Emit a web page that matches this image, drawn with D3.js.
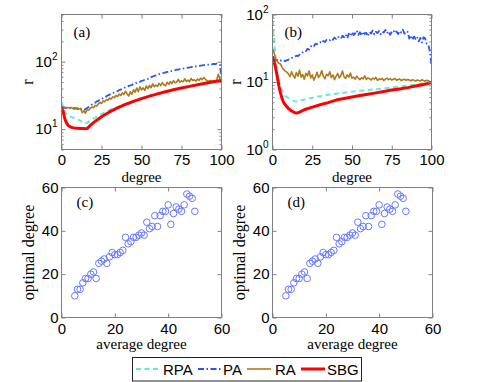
<!DOCTYPE html>
<html><head><meta charset="utf-8">
<script src="https://cdn.jsdelivr.net/npm/d3@7"></script>
<style>
body{margin:0;background:#fff;}
svg{display:block;}
</style></head><body>
<svg id="chart" width="480" height="382"></svg>
<script>
// ---------- data ----------
const degrees = d3.range(0, 101);
const smoothDeg = [0,1,2,3,4,5,6,7,8,10,12,14,15,16,18,20,25,30,35,40,45,50,55,60,65,70,75,80,85,90,95,100];

const aRPA = [25,22,19,17,16,15.5,15.2,14.9,14.6,14.2,13.2,12.5,12.3,12.4,13.4,14.3,16.8,19.2,21.2,23.6,26.1,28.7,31.2,33.7,36.2,38.7,41.1,43.5,46.0,48.4,50.8,53.2];
const aSBG = [21,18.5,14.5,12.5,11.5,11.0,10.7,10.55,10.45,10.35,10.25,10.2,10.15,10.2,11.4,12.5,15.3,18.0,20.7,23.3,25.8,28.4,30.9,33.4,35.9,38.3,40.7,43.1,45.5,47.9,50.3,52.6];
const aPA = [
  21.5,21.0,20.6,20.9,20.4,20.8,20.2,20.6,20.0,20.5,
  19.8,20.2,19.5,19.9,19.3,19.8,20.6,21.3,22.4,23.1,
  24.0,24.6,25.8,26.3,27.5,28.1,29.0,29.8,30.6,31.7,
  32.3,33.5,33.9,35.2,35.8,36.5,37.9,38.4,39.8,40.5,
  41.9,42.3,43.8,44.4,45.1,46.9,47.3,48.6,49.5,50.2,
  52.0,52.6,53.9,54.8,55.5,58.0,59.1,60.2,61.8,62.5,
  64.0,65.2,66.1,67.6,68.2,69.5,70.4,71.0,72.6,73.1,
  74.2,74.8,76.1,76.5,77.6,78.2,79.0,80.1,80.5,81.4,
  82.0,83.1,83.5,84.6,85.0,86.1,86.6,87.7,88.1,89.2,
  89.6,90.8,90.2,92.0,91.4,93.0,92.1,93.5,91.8,90.0,
  58.0];
const aRA = [
  21.0,20.8,21.2,20.6,21.0,20.5,20.9,20.3,20.7,20.2,
  20.6,19.9,20.3,17.5,18.8,17.2,19.5,19.0,20.4,21.3,
  20.8,22.5,22.0,23.6,24.9,24.0,26.2,25.5,27.4,26.8,
  28.9,28.0,30.1,29.2,31.5,30.4,33.0,31.6,34.4,32.8,
  36.5,33.5,31.0,35.8,33.0,38.5,35.2,40.8,36.0,42.5,
  38.2,41.0,37.5,43.6,39.8,44.5,41.2,46.8,42.5,45.0,
  43.1,47.6,44.2,48.8,45.5,43.8,49.5,46.0,50.8,47.2,
  52.4,48.5,50.0,54.6,49.6,52.0,50.4,55.8,51.2,53.4,
  50.6,56.5,52.8,54.0,51.5,55.2,53.0,57.0,54.2,58.5,
  55.0,52.0,51.2,52.5,51.0,52.4,51.8,53.0,65.0,55.0,
  52.0];

const bRPA = [80,40,22,14,10.5,8.6,7.5,6.8,6.3,5.75,5.4,5.2,5.15,5.18,5.35,5.5,5.85,6.15,6.45,6.7,6.95,7.2,7.4,7.6,7.8,8.05,8.3,8.55,8.85,9.2,9.6,10.1];
const bSBG = [24,20,16,12,8.8,6.9,5.7,5.0,4.6,4.05,3.72,3.52,3.46,3.5,3.68,3.88,4.25,4.6,4.95,5.4,5.7,6.0,6.3,6.6,6.9,7.25,7.6,7.9,8.25,8.7,9.2,9.8];
const bPA = [
  22.0,21.4,20.8,21.2,20.5,20.9,20.3,20.8,20.4,21.0,
  21.5,22.0,22.8,23.0,23.8,24.5,24.2,25.5,26.8,27.5,
  29.0,28.6,31.0,30.2,33.5,35.0,33.8,37.0,36.2,38.5,
  39.0,37.5,40.5,39.2,42.0,40.8,41.5,44.0,42.2,45.5,
  43.5,47.0,45.2,44.0,48.5,46.0,50.5,44.5,52.0,48.0,
  55.0,49.5,53.0,57.5,50.0,54.5,48.5,56.0,51.5,53.5,
  47.5,55.0,52.0,58.0,50.5,55.5,53.0,57.0,51.0,56.0,
  54.0,59.0,52.5,56.5,50.0,55.0,58.5,53.0,56.0,51.5,
  57.0,54.0,59.5,52.0,56.5,55.0,44.0,49.0,42.0,47.0,
  43.5,46.5,40.0,45.0,38.5,46.0,44.0,37.0,36.0,28.0,
  18.0];
const bRA = [
  31.0,27.0,22.0,20.0,19.0,18.5,16.5,15.2,14.5,14.0,
  13.2,12.0,14.2,12.5,11.4,13.8,12.2,15.0,11.8,12.9,
  11.0,13.5,12.3,14.6,11.5,12.8,10.6,12.0,13.9,11.7,
  12.6,14.8,12.1,11.2,13.0,12.4,14.2,11.6,12.7,10.8,
  12.2,13.4,11.5,12.5,14.5,12.0,11.3,12.8,11.8,13.6,
  11.4,11.8,11.0,12.2,11.4,10.8,11.6,11.1,12.3,10.9,
  11.5,11.2,10.7,11.4,11.0,11.7,10.6,11.1,10.9,11.3,
  10.5,11.0,11.4,10.8,11.2,10.7,11.0,11.3,10.6,10.9,
  11.1,10.5,10.8,11.0,10.6,10.9,10.7,10.4,10.8,10.6,
  10.3,10.7,10.5,10.4,10.8,10.5,10.3,10.6,10.4,10.2,
  10.1];

const avgDegree = [5,6,7,8,9,10,11,12,13,14,15,16,17,18,19,20,21,22,23,24,25,26,27,28,29,30,31,32,33,34,35,36,37,38,39,40,41,42,43,44,45,46,47,48,49,50];
const optDegree = [10,13,13,16,18,18,20,21,18,25, 26,27,25,28,30,29,29,30,31,37, 34,35,37,37,38,39,38,44,41,42, 47,42,47,49,49,52,43,48,51,50, 49,52,57,56,55,49];

const seriesNames = ["RPA","PA","RA","SBG"];
const degreeTicks = [0,25,50,75,100];
const scatterTicks = [0,20,40,60];
const logMajorA = [10,100];
const logMajorB = [1,10,100];

// ---------- styles ----------
const SANS = '"Liberation Sans", Arial, Helvetica, sans-serif';
const SERIF = '"Liberation Serif", "Times New Roman", Times, serif';
const FRAME = "#808080";
const style = {
  RPA: {color:"#66ecd6", width:2, dash:"5,3.5"},
  PA:  {color:"#2c52ff", width:1.8, dash:"6,2.5,1.5,2.5"},
  RA:  {color:"#b07a1a", width:1.6, dash:null},
  SBG: {color:"#ff0000", width:3, dash:null}
};

const svg = d3.select("#chart");
const defs = svg.append("defs");

function styleAxis(sel){
  sel.select(".domain").remove();
  sel.selectAll(".tick line").attr("stroke", FRAME);
  sel.selectAll(".tick text").attr("fill","#000").style("font-family", SANS).style("font-size","15px");
}

function frame(g, box){
  g.append("rect").attr("x", box.x0).attr("y", box.y0)
    .attr("width", box.x1-box.x0).attr("height", box.y1-box.y0)
    .attr("fill","none").attr("stroke", FRAME).attr("stroke-width",1);
}

function logPanel(id, box, yDomain, majors, data, label){
  const x = d3.scaleLinear().domain([0,100]).range([box.x0, box.x1]);
  const y = d3.scaleLog().domain(yDomain).range([box.y1, box.y0]);
  const g = svg.append("g");
  g.append("rect").attr("x",box.x0).attr("y",box.y0).attr("width",box.x1-box.x0).attr("height",box.y1-box.y0).attr("fill","#fff");
  defs.append("clipPath").attr("id","clip"+id).append("rect")
    .attr("x",box.x0).attr("y",box.y0).attr("width",box.x1-box.x0).attr("height",box.y1-box.y0);
  const lines = g.append("g").attr("clip-path","url(#clip"+id+")");
  seriesNames.forEach(name => {
    const s = data[name];
    const line = d3.line().x((d,i)=>x(s.x[i])).y(d=>y(d));
    const st = style[name];
    lines.append("path").datum(s.v).attr("d", line)
      .attr("fill","none").attr("stroke", st.color).attr("stroke-width", st.width)
      .attr("stroke-dasharray", st.dash).attr("stroke-linejoin","round");
  });
  const minors = y.ticks().filter(t => majors.indexOf(t) < 0);
  g.append("g").attr("transform",`translate(0,${box.y1})`)
    .call(d3.axisBottom(x).tickValues(degreeTicks).tickSizeInner(-4).tickSizeOuter(0).tickPadding(5)).call(styleAxis);
  g.append("g").attr("transform",`translate(0,${box.y0})`)
    .call(d3.axisTop(x).tickValues(degreeTicks).tickSizeInner(-4).tickSizeOuter(0).tickFormat("")).call(styleAxis);
  [[box.x0, d3.axisLeft],[box.x1, d3.axisRight]].forEach(([px, ax])=>{
    g.append("g").attr("transform",`translate(${px},0)`)
      .call(ax(y).tickValues(majors).tickSizeInner(-4).tickSizeOuter(0).tickFormat("")).call(styleAxis);
    g.append("g").attr("transform",`translate(${px},0)`)
      .call(ax(y).tickValues(minors).tickSizeInner(-2).tickSizeOuter(0).tickFormat("")).call(styleAxis);
  });
  majors.forEach(t=>{
    const tx = g.append("text").attr("x", box.x0-4).attr("y", y(t)+5)
      .attr("text-anchor","end").style("font-family",SANS).style("font-size","15px");
    tx.append("tspan").text("10");
    tx.append("tspan").attr("dy",-7).style("font-size","10px").text(String(Math.round(Math.log10(t))));
  });
  frame(g, box);
  g.append("text").attr("x", box.x0+12).attr("y", 37).style("font-family",SERIF).style("font-size","15px").text(label);
  g.append("text").attr("x",(box.x0+box.x1)/2).attr("y",181.5).attr("text-anchor","middle")
    .style("font-family",SERIF).style("font-size","15px").text("degree");
  return g;
}

function scatterPanel(id, box, label, ylabX){
  const x = d3.scaleLinear().domain([0,60]).range([box.x0, box.x1]);
  const y = d3.scaleLinear().domain([0,60]).range([box.y1, box.y0]);
  const g = svg.append("g");
  g.append("rect").attr("x",box.x0).attr("y",box.y0).attr("width",box.x1-box.x0).attr("height",box.y1-box.y0).attr("fill","#fff");
  g.selectAll("circle").data(avgDegree).join("circle")
    .attr("cx",(d)=>x(d)).attr("cy",(d,i)=>y(optDegree[i])).attr("r",3.3)
    .attr("fill","none").attr("stroke","#6878ff").attr("stroke-width",1);
  g.append("g").attr("transform",`translate(0,${box.y1})`)
    .call(d3.axisBottom(x).tickValues(scatterTicks).tickSizeInner(-4).tickSizeOuter(0).tickPadding(5.5)).call(styleAxis);
  g.append("g").attr("transform",`translate(0,${box.y0})`)
    .call(d3.axisTop(x).tickValues(scatterTicks).tickSizeInner(-4).tickSizeOuter(0).tickFormat("")).call(styleAxis);
  g.append("g").attr("transform",`translate(${box.x0},0)`)
    .call(d3.axisLeft(y).tickValues(scatterTicks).tickSizeInner(-4).tickSizeOuter(0).tickPadding(3)).call(styleAxis);
  g.append("g").attr("transform",`translate(${box.x1},0)`)
    .call(d3.axisRight(y).tickValues(scatterTicks).tickSizeInner(-4).tickSizeOuter(0).tickFormat("")).call(styleAxis);
  frame(g, box);
  g.append("text").attr("x", box.x0+15).attr("y", 207).style("font-family",SERIF).style("font-size","15px").text(label);
  g.append("text").attr("x",(box.x0+box.x1)/2).attr("y",349).attr("text-anchor","middle")
    .style("font-family",SERIF).style("font-size","15px").text("average degree");
  g.append("text").attr("transform",`translate(${ylabX},${(box.y0+box.y1)/2}) rotate(-90)`).attr("text-anchor","middle")
    .style("font-family",SERIF).style("font-size","16px").text("optimal degree");
}

const boxA = {x0:61.5, x1:221.5, y0:14.5, y1:149.5};
const boxB = {x0:272.5, x1:431.5, y0:14.5, y1:149.5};
const boxC = {x0:61.5, x1:221.5, y0:187.5, y1:317.5};
const boxD = {x0:272.5, x1:432.5, y0:187.5, y1:317.5};

logPanel("a", boxA, [5,500], logMajorA, {
  RPA:{x:smoothDeg, v:aRPA}, PA:{x:degrees, v:aPA}, RA:{x:degrees, v:aRA}, SBG:{x:smoothDeg, v:aSBG}
}, "(a)");
logPanel("b", boxB, [1,100], logMajorB, {
  RPA:{x:smoothDeg, v:bRPA}, PA:{x:degrees, v:bPA}, RA:{x:degrees, v:bRA}, SBG:{x:smoothDeg, v:bSBG}
}, "(b)");
svg.append("text").attr("transform","translate(33,82) rotate(-90)").attr("text-anchor","middle")
  .style("font-family",SERIF).style("font-size","16px").text("r");
svg.append("text").attr("transform","translate(241,82) rotate(-90)").attr("text-anchor","middle")
  .style("font-family",SERIF).style("font-size","16px").text("r");

scatterPanel("c", boxC, "(c)", 34);
scatterPanel("d", boxD, "(d)", 245);

// legend
const leg = svg.append("g");
leg.append("rect").attr("x",132.5).attr("y",357.5).attr("width",229).attr("height",23.5)
  .attr("fill","#fff").attr("stroke","#222").attr("stroke-width",1);
const legPos = {RPA:[136,163], PA:[198,223], RA:[247,275], SBG:[301,327]};
seriesNames.forEach(name=>{
  const [lx, tx] = legPos[name];
  const st = style[name];
  leg.append("line").attr("x1",lx).attr("x2",lx+24).attr("y1",369).attr("y2",369)
    .attr("stroke",st.color).attr("stroke-width",st.width).attr("stroke-dasharray",st.dash);
  leg.append("text").attr("x",tx).attr("y",374.5).style("font-family",SANS).style("font-size","15px").text(name);
});
</script>
</body></html>
